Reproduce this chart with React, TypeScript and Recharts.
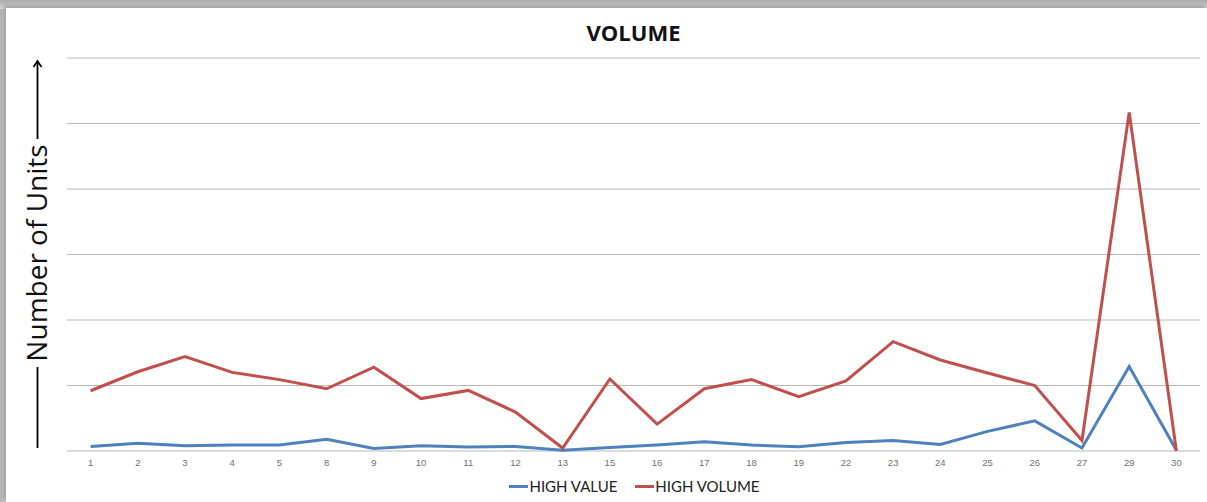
import React from "react";
import { LineChart, Line, XAxis, YAxis, CartesianGrid, Legend } from "recharts";

const days = ["1","2","3","4","5","8","9","10","11","12","13","15","16","17","18","19","22","23","24","25","26","27","29","30"];
const highValue = [0.7,1.2,0.8,0.9,0.9,1.8,0.4,0.8,0.6,0.7,0.1,0.55,0.9,1.4,0.9,0.65,1.3,1.6,1.0,3.0,4.6,0.45,12.9,0.1];
const highVolume = [9.2,12.1,14.4,12.0,10.9,9.5,12.8,8.0,9.25,5.95,0.46,11.0,4.1,9.5,10.9,8.3,10.7,16.7,13.9,11.9,10.0,1.6,51.7,0];
const yTicks = [0,10,20,30,40,50,60];
const edgeTicks = days.map((_, i) => i).concat([days.length]);

const data = days.map((d, i) => ({ day: d, hv: highValue[i], hvol: highVolume[i], idx: i + 0.5 }));

const BLUE = "#4F81BD";
const RED = "#C0504D";

const LegendContent = () => (
  <div style={{ display: "flex", justifyContent: "center", paddingLeft: 62, fontFamily: "Lato, 'Liberation Sans', sans-serif", fontSize: 15, color: "#222", lineHeight: "26px" }}>
    <span style={{ display: "inline-flex", alignItems: "center", marginRight: 18 }}>
      <span style={{ display: "inline-block", width: 19, height: 3, background: BLUE, marginRight: 1 }} />
      HIGH VALUE
    </span>
    <span style={{ display: "inline-flex", alignItems: "center" }}>
      <span style={{ display: "inline-block", width: 19, height: 3, background: RED, marginRight: 1 }} />
      HIGH VOLUME
    </span>
  </div>
);

const EmptyTick = () => <g />;

export default function App() {
  return (
    <div style={{ position: "fixed", left: 0, top: 0, width: 1207, height: 502, background: "linear-gradient(to right, #b4b4b4, #cfcfcf 6px)", overflow: "hidden" }}>
      <div style={{ position: "absolute", left: 0, top: 0, width: 1207, height: 9, background: "linear-gradient(to bottom, #a9a9a9, #d9d9d9)" }} />
      <div style={{ position: "absolute", left: 6, top: 8, right: 0, bottom: 0, background: "#ffffff", boxShadow: "-2px -2px 4px rgba(0,0,0,0.25)" }} />
      <div style={{ position: "absolute", left: 0, top: 0 }}>
        <LineChart width={1207} height={502} data={data} margin={{ top: 58, right: 7, left: 67, bottom: 3 }}>
          <CartesianGrid vertical={false} stroke="#b8b8b8" strokeWidth={1} />
          <YAxis hide domain={[0, 60]} ticks={yTicks} />
          <XAxis xAxisId="edge" type="number" dataKey="idx" domain={[0, days.length]} ticks={edgeTicks} tick={EmptyTick} height={0} stroke="#a6a6a6" tickSize={4} allowDataOverflow />
          <XAxis xAxisId="cat" dataKey="day" scale="band" axisLine={false} tickLine={false} height={22} tickMargin={2} interval={0} tick={{ fontSize: 9.5, fill: "#707070", fontFamily: "'Liberation Sans', sans-serif" }} />
          <Legend verticalAlign="bottom" height={26} content={<LegendContent />} wrapperStyle={{ left: 0, width: 1207 }} />
          <Line xAxisId="cat" dataKey="hv" name="HIGH VALUE" stroke={BLUE} strokeWidth={3} dot={false} isAnimationActive={false} />
          <Line xAxisId="cat" dataKey="hvol" name="HIGH VOLUME" stroke={RED} strokeWidth={3} dot={false} isAnimationActive={false} />
        </LineChart>
      </div>
      <div style={{ position: "absolute", left: 0, top: 18, width: 1267, textAlign: "center", fontFamily: "'Open Sans', sans-serif", fontWeight: 700, fontSize: 22, color: "#111", lineHeight: "28px" }}>VOLUME</div>
      <svg style={{ position: "absolute", left: 0, top: 0 }} width={80} height={502}>
        <line x1={37.5} y1={61} x2={37.5} y2={139} stroke="#000" strokeWidth={1.8} />
        <polyline points="33.5,67 37.5,61 41.5,67" fill="none" stroke="#000" strokeWidth={1.8} />
        <line x1={37.5} y1={367} x2={37.5} y2={448} stroke="#000" strokeWidth={1.8} />
        <text x={0} y={0} transform="translate(47,253) rotate(-90)" textAnchor="middle" fontFamily="'Open Sans', sans-serif" fontSize={28} fill="#111">Number of Units</text>
      </svg>
    </div>
  );
}
